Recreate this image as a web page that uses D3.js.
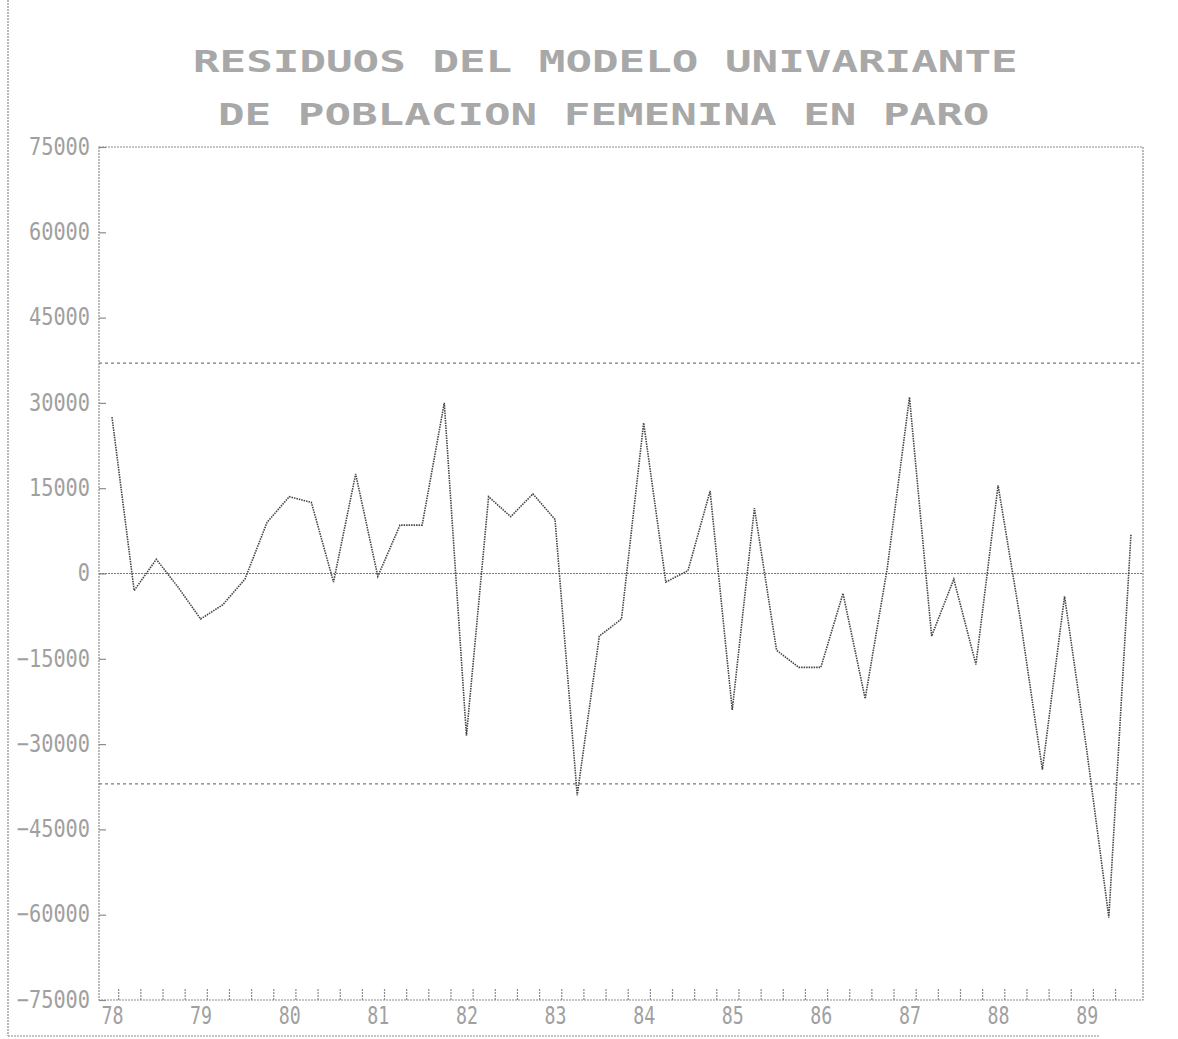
<!DOCTYPE html>
<html>
<head>
<meta charset="utf-8">
<script src="https://cdn.jsdelivr.net/npm/d3@7"></script>
<style>
  html, body { margin: 0; padding: 0; background: #fff; }
  svg { display: block; }
</style>
</head>
<body>
<svg id="chart" width="1178" height="1039"></svg>
<script>
// ---- data ----
const titleLines = ["RESIDUOS DEL MODELO UNIVARIANTE", "DE POBLACION FEMENINA EN PARO"];
// quarterly residuals, 78 Q1 .. 89 Q3
const residuals = [
  27500, -3000, 2500, -2500,      // 78
  -8000, -5500, -1000, 9000,      // 79
  13500, 12500, -1500, 17500,     // 80
  -500, 8500, 8500, 30000,        // 81
  -28500, 13500, 10000, 14000,    // 82
  9500, -39000, -11000, -8000,    // 83
  26500, -1500, 500, 14500,       // 84
  -24000, 11500, -13500, -16500,  // 85
  -16500, -3500, -22000, 1000,    // 86
  31000, -11000, -1000, -16000,   // 87
  15500, -8000, -34500, -4000,    // 88
  -31000, -60500, 7000            // 89
];
const yearLabels = ["78","79","80","81","82","83","84","85","86","87","88","89"];
const yTicks = [75000, 60000, 45000, 30000, 15000, 0, -15000, -30000, -45000, -60000, -75000];
const controlLimits = [37000, -37000];
const quarterTicks = d3.range(46);

// ---- layout ----
const svg = d3.select("#chart");
const plot = { left: 99, right: 1143, top: 147, bottom: 1000 };
const x = d3.scaleLinear().domain([0, residuals.length - 1]).range([112, 1131]);
const y = d3.scaleLinear().domain([-75000, 75000]).range([plot.bottom, plot.top]);

const grey = "#8c8c8c";
const dotted = "2,1";

// page border (scan edge)
svg.append("line").attr("x1", 8).attr("x2", 8).attr("y1", 0).attr("y2", 1036)
  .attr("stroke", grey).attr("stroke-width", 1.2).attr("stroke-dasharray", dotted);
svg.append("line").attr("x1", 8).attr("x2", 1100).attr("y1", 1036).attr("y2", 1036)
  .attr("stroke", grey).attr("stroke-width", 1.2).attr("stroke-dasharray", dotted);

// title
const mono = "'DejaVu Sans Mono', 'Liberation Mono', monospace";
svg.selectAll("text.title").data(titleLines).join("text")
  .attr("class", "title")
  .attr("x", (d, i) => i === 0 ? 193 : 218)
  .attr("y", (d, i) => i === 0 ? 72 : 125)
  .attr("textLength", d => d.length * 26.6)
  .attr("lengthAdjust", "spacingAndGlyphs")
  .attr("font-family", mono)
  .attr("font-weight", "bold")
  .attr("font-size", 31)
  .attr("fill", "#a8a8a8")
  .text(d => d);

// frame
svg.append("rect")
  .attr("x", plot.left).attr("y", plot.top)
  .attr("width", plot.right - plot.left).attr("height", plot.bottom - plot.top)
  .attr("fill", "none").attr("stroke", grey).attr("stroke-width", 1.2)
  .attr("stroke-dasharray", dotted);

// y axis
const yAxis = svg.append("g")
  .attr("transform", `translate(${plot.left},0)`)
  .call(d3.axisLeft(y).tickValues(yTicks).tickSize(-7).tickPadding(9).tickFormat(d3.format("d")));
yAxis.select(".domain").remove();
yAxis.selectAll(".tick line").attr("stroke", grey).attr("stroke-width", 1.2);
yAxis.selectAll(".tick text")
  .attr("font-family", mono).attr("font-size", 24).attr("fill", "#a0a0a0")
  .attr("dy", "0.3em")
  .attr("textLength", d => String(d).length * 12.2)
  .attr("lengthAdjust", "spacingAndGlyphs");

// x axis quarter ticks
const xAxis = svg.append("g")
  .attr("transform", `translate(0,${plot.bottom})`)
  .call(d3.axisBottom(x).tickValues(quarterTicks.map(q => q + 0.28)).tickSize(-12).tickFormat(""));
xAxis.select(".domain").remove();
xAxis.selectAll(".tick line").attr("stroke", grey).attr("stroke-width", 1.2).attr("stroke-dasharray", "2,1");

// x year labels
const xLab = svg.append("g")
  .attr("transform", `translate(0,${plot.bottom})`)
  .call(d3.axisBottom(x).tickValues(yearLabels.map((d, i) => i * 4)).tickSize(0).tickPadding(7)
    .tickFormat((d, i) => yearLabels[i]));
xLab.select(".domain").remove();
xLab.selectAll(".tick text")
  .attr("font-family", mono).attr("font-size", 24).attr("fill", "#a0a0a0")
  .attr("textLength", 22).attr("lengthAdjust", "spacingAndGlyphs");

// zero line and control limits
svg.selectAll("line.ref").data([0, ...controlLimits]).join("line")
  .attr("class", "ref")
  .attr("x1", plot.left).attr("x2", plot.right)
  .attr("y1", d => y(d)).attr("y2", d => y(d))
  .attr("stroke", "#7a7a7a").attr("stroke-width", 1.2)
  .attr("stroke-dasharray", d => d === 0 ? "2,1" : "3,3");

// residual series
svg.append("path")
  .datum(residuals)
  .attr("fill", "none")
  .attr("stroke", "#444")
  .attr("stroke-width", 1.6)
  .attr("stroke-dasharray", "1.5,1")
  .attr("d", d3.line().x((d, i) => x(i)).y(d => y(d)));
</script>
</body>
</html>
